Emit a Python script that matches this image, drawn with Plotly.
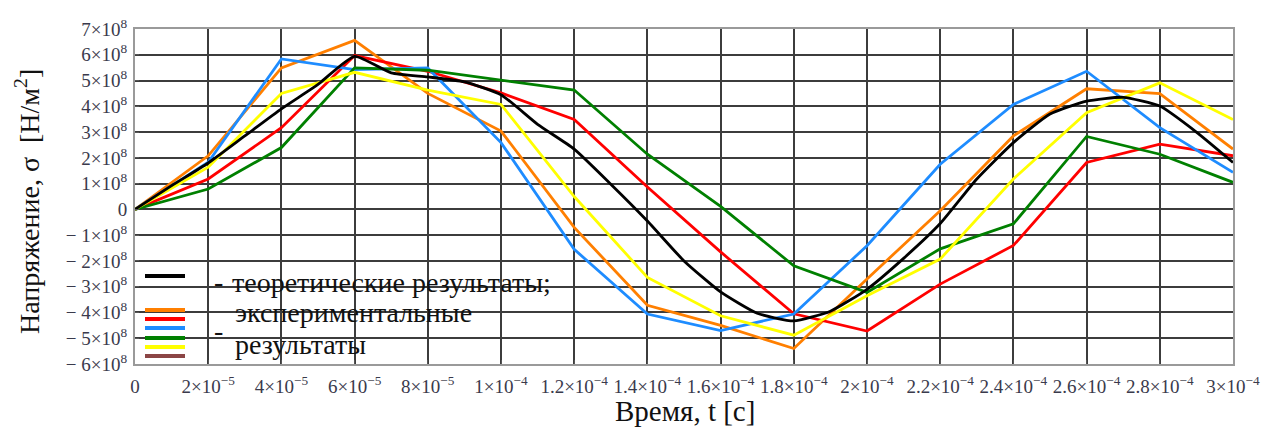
import plotly.graph_objects as go

# ---------------- data ----------------
t_exp = [0, 2e-5, 4e-5, 6e-5, 8e-5, 1e-4, 1.2e-4, 1.4e-4, 1.6e-4, 1.8e-4,
         2e-4, 2.2e-4, 2.4e-4, 2.6e-4, 2.8e-4, 3e-4]
orange = [0, 2.08, 5.49, 6.56, 4.5, 3.04, -0.7, -3.72, -4.5, -5.4, -2.7, -0.05, 2.85, 4.68, 4.49, 2.34]
red    = [0, 1.18, 3.17, 5.97, 5.36, 4.52, 3.49, 0.87, -1.65, -4.05, -4.72, -2.9, -1.4, 1.82, 2.53, 2.08]
blue   = [0, 1.83, 5.84, 5.42, 5.49, 2.59, -1.55, -4.06, -4.7, -4.06, -1.41, 1.75, 4.07, 5.36, 3.17, 1.44]
green  = [0, 0.79, 2.40, 5.49, 5.40, 5.01, 4.63, 2.14, 0.12, -2.19, -3.22, -1.53, -0.56, 2.83, 2.14, 1.05]
yellow = [0, 1.64, 4.50, 5.32, 4.63, 4.07, 0.5, -2.64, -4.13, -4.88, -3.35, -1.93, 1.18, 3.75, 4.91, 3.49]

t_theory = [0, 1e-5, 2e-5, 3e-5, 4e-5, 5e-5, 6e-5, 7e-5, 8e-5, 9e-5, 1e-4, 1.1e-4, 1.2e-4,
            1.3e-4, 1.4e-4, 1.5e-4, 1.6e-4, 1.7e-4, 1.8e-4, 1.9e-4, 2e-4, 2.1e-4, 2.2e-4,
            2.3e-4, 2.4e-4, 2.5e-4, 2.6e-4, 2.7e-4, 2.8e-4, 2.9e-4, 3e-4]
black = [0, 0.92, 1.8, 2.85, 3.9, 4.85, 5.94, 5.3, 5.14, 4.95, 4.45, 3.3, 2.34, 0.98, -0.45,
         -2.0, -3.2, -4.03, -4.33, -3.95, -3.1, -1.9, -0.55, 1.18, 2.59, 3.7, 4.2, 4.35, 4.01, 3.0, 1.82]

scale = 1e8
x_tickvals = [0, 2e-5, 4e-5, 6e-5, 8e-5, 1e-4, 1.2e-4, 1.4e-4, 1.6e-4, 1.8e-4,
              2e-4, 2.2e-4, 2.4e-4, 2.6e-4, 2.8e-4, 3e-4]
x_ticktext = ["0", "2×10<sup>−5</sup>", "4×10<sup>−5</sup>", "6×10<sup>−5</sup>", "8×10<sup>−5</sup>",
              "1×10<sup>−4</sup>", "1.2×10<sup>−4</sup>", "1.4×10<sup>−4</sup>", "1.6×10<sup>−4</sup>",
              "1.8×10<sup>−4</sup>", "2×10<sup>−4</sup>", "2.2×10<sup>−4</sup>", "2.4×10<sup>−4</sup>",
              "2.6×10<sup>−4</sup>", "2.8×10<sup>−4</sup>", "3×10<sup>−4</sup>"]
y_tickvals = [-6e8, -5e8, -4e8, -3e8, -2e8, -1e8, 0, 1e8, 2e8, 3e8, 4e8, 5e8, 6e8, 7e8]
y_ticktext = ["− 6×10<sup>8</sup>", "− 5×10<sup>8</sup>", "− 4×10<sup>8</sup>", "− 3×10<sup>8</sup>",
              "− 2×10<sup>8</sup>", "− 1×10<sup>8</sup>", "0", "1×10<sup>8</sup>", "2×10<sup>8</sup>",
              "3×10<sup>8</sup>", "4×10<sup>8</sup>", "5×10<sup>8</sup>", "6×10<sup>8</sup>", "7×10<sup>8</sup>"]

series = [("orange", orange, "#FF7F00"), ("red", red, "#FF0000"), ("blue", blue, "#1E8CFF"),
          ("green", green, "#008000"), ("yellow", yellow, "#FFFF00")]
legend_colors = ["#FF7F00", "#FF0000", "#1E8CFF", "#008000", "#FFFF00", "#8B4545"]

# ---------------- layout geometry ----------------
OFF = 8  # page body margin
W, H = 1269 - OFF, 435 - OFF
SL, SR, ST, SB = 135, 1233, 29, 364   # plot area in screen pixels
L, R, T, B = SL - OFF, SR - OFF, ST - OFF, SB - OFF
FONT = "Liberation Serif, Times New Roman, Times, serif"


def px(xs):
    return (xs - SL) / (SR - SL)


def py(ys):
    return (SB - ys) / (SB - ST)


fig = go.Figure()
for name, vals, col in series:
    fig.add_trace(go.Scatter(x=t_exp, y=[v * scale for v in vals], mode="lines",
                             line=dict(color=col, width=2.8), name=name, showlegend=False))
fig.add_trace(go.Scatter(x=t_theory, y=[v * scale for v in black], mode="lines",
                         line=dict(color="#000000", width=2.8, shape="spline", smoothing=0.5),
                         name="theory", showlegend=False))

shapes = []
shapes.append(dict(type="rect", xref="paper", yref="paper", x0=0, x1=px(576), y0=0, y1=py(213),
                   fillcolor="white", line=dict(width=0), layer="between"))
shapes.append(dict(type="line", xref="paper", yref="paper", x0=px(145), x1=px(185), y0=py(276), y1=py(276),
                   line=dict(color="#000000", width=4)))
for yy, col in zip([310, 319, 328, 338, 347, 356], legend_colors):
    shapes.append(dict(type="line", xref="paper", yref="paper", x0=px(145), x1=px(185), y0=py(yy), y1=py(yy),
                       line=dict(color=col, width=4)))

ann = []
lf = dict(family=FONT, size=28, color="#111111")
ann.append(dict(x=px(218), y=py(281), xref="paper", yref="paper", text="-", showarrow=False,
                font=lf, xanchor="center", yanchor="middle"))
ann.append(dict(x=px(230), y=py(282), xref="paper", yref="paper", text="теоретические результаты;",
                showarrow=False, font=lf, xanchor="left", yanchor="middle"))
ann.append(dict(x=px(233), y=py(312), xref="paper", yref="paper", text="экспериментальные",
                showarrow=False, font=lf, xanchor="left", yanchor="middle"))
ann.append(dict(x=px(218), y=py(330), xref="paper", yref="paper", text="-", showarrow=False,
                font=lf, xanchor="center", yanchor="middle"))
ann.append(dict(x=px(233), y=py(344), xref="paper", yref="paper", text="результаты",
                showarrow=False, font=lf, xanchor="left", yanchor="middle"))
ann.append(dict(x=px(685), y=py(411), xref="paper", yref="paper", text="Время, t [c]",
                showarrow=False, font=dict(family=FONT, size=29, color="#111111"),
                xanchor="center", yanchor="middle"))
ann.append(dict(x=px(27), y=py(202), xref="paper", yref="paper", text="Напряжение, σ  [Н/м<sup>2</sup>]",
                showarrow=False, textangle=-90, font=dict(family=FONT, size=28, color="#111111"),
                xanchor="center", yanchor="middle"))

tickfont = dict(family=FONT, size=19, color="#3a3a4c")
fig.update_layout(
    width=W, height=H,
    margin=dict(l=L, r=W - R, t=T, b=H - B, autoexpand=False),
    paper_bgcolor="white", plot_bgcolor="white",
    font=dict(family=FONT),
    shapes=shapes, annotations=ann, showlegend=False,
    xaxis=dict(range=[0, 3e-4], tickvals=x_tickvals, ticktext=x_ticktext, tickfont=tickfont,
               showgrid=True, gridcolor="#3c3c3c", gridwidth=1.5, zeroline=False,
               showline=True, linecolor="#9a9a9a", linewidth=2, mirror=True,
               ticks="inside", ticklen=4, tickcolor="#555", ticklabelstandoff=4),
    yaxis=dict(range=[-6e8, 7e8], tickvals=y_tickvals, ticktext=y_ticktext, tickfont=tickfont,
               showgrid=True, gridcolor="#3c3c3c", gridwidth=1.5, zeroline=False,
               showline=True, linecolor="#9a9a9a", linewidth=2, mirror=True,
               ticks="inside", ticklen=4, tickcolor="#555", ticklabelstandoff=2),
)

fig.write_html("out.html")
